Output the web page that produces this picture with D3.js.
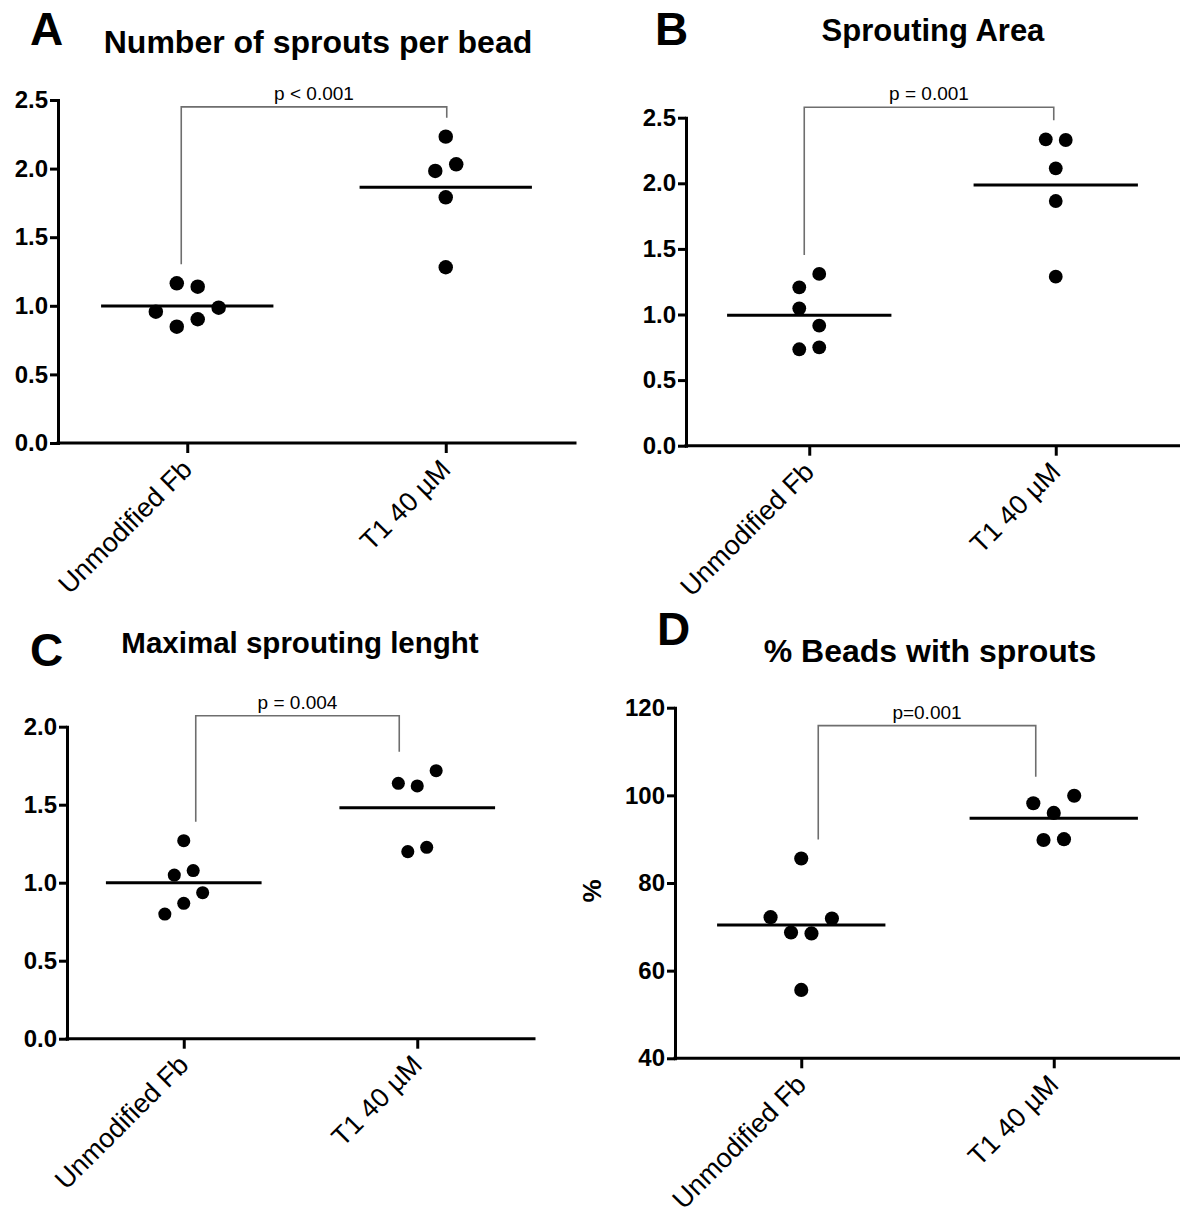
<!DOCTYPE html>
<html>
<head>
<meta charset="utf-8">
<script src="https://cdn.jsdelivr.net/npm/d3@7"></script>
<style>
  body { margin: 0; background: #fff; }
  svg text { font-family: "Liberation Sans", Arial, sans-serif; fill: #000; }
</style>
</head>
<body>
<div id="d3-container"></div>
<script>
/**
 * CONSTANTS AND GLOBALS
 * */
const width = 1180,
  height = 1215;

// categories and labels
const categories = ["Unmodified Fb", "T1 40 µM"];
const panelLetters = ["A", "B", "C", "D"];
const titles = ["Number of sprouts per bead", "Sprouting Area", "Maximal sprouting lenght", "% Beads with sprouts"];
const pLabels = ["p < 0.001", "p = 0.001", "p = 0.004", "p=0.001"];

const sproutsUnmod = [1.164, 1.139, 0.957, 0.848, 0.902, 0.986];
const sproutsT1 = [2.233, 1.983, 2.031, 1.791, 1.281];
const areaUnmod = [1.207, 1.309, 1.047, 0.915, 0.735, 0.750];
const areaT1 = [2.335, 2.330, 2.114, 1.865, 1.288];
const lengthUnmod = [1.269, 1.049, 1.078, 0.799, 0.868, 0.936];
const lengthT1 = [1.637, 1.620, 1.718, 1.199, 1.227];
const beadsUnmod = [85.6, 72.2, 68.7, 68.5, 71.9, 55.6];
const beadsT1 = [98.2, 96.0, 99.9, 89.8, 90.0];

// tick values
const ticksA = [0, 0.5, 1.0, 1.5, 2.0, 2.5];
const ticksB = [0, 0.5, 1.0, 1.5, 2.0, 2.5];
const ticksC = [0, 0.5, 1.0, 1.5, 2.0];
const ticksD = [40, 60, 80, 100, 120];

// bracket height in data units
const bracketLevels = [2.45, 2.58, 2.07, 115.9];

/**
 * PANEL LAYOUT (pixels)
 * */
const layout = [
  { x0: 58, x1: 575, yb: 443, yt: 100, tx: 318, ty: 53, ts: 32, lx: 30, ly: 45, inset: [-6, 1], fmt: ".1f" },
  { x0: 686, x1: 1179, yb: 445.7, yt: 117.7, tx: 933, ty: 41, ts: 31, lx: 655, ly: 45, inset: [-5, -2], fmt: ".1f" },
  { x0: 67, x1: 534, yb: 1038.7, yt: 726.7, tx: 300, ty: 653, ts: 29.5, lx: 30, ly: 666, inset: [12, -18], fmt: ".1f" },
  { x0: 675, x1: 1180, yb: 1058.3, yt: 707.7, tx: 930, ty: 662, ts: 32, lx: 657, ly: 645, inset: [17, -18], fmt: "d", yLabel: "%" }
];

const panels = [
  { groups: [sproutsUnmod, sproutsT1], ticks: ticksA },
  { groups: [areaUnmod, areaT1], ticks: ticksB },
  { groups: [lengthUnmod, lengthT1], ticks: ticksC },
  { groups: [beadsUnmod, beadsT1], ticks: ticksD }
];

let svg;

init();

function init() {
  svg = d3.select("#d3-container")
    .append("svg")
    .attr("width", width)
    .attr("height", height);

  panels.forEach((p, i) => drawPanel(p, layout[i], i));
}

// greedy rows: consecutive dots closer than 19px share a row, centred on the category
function swarm(values, y, cx, spacing) {
  const rows = [];
  values.forEach(v => {
    const last = rows.length ? rows[rows.length - 1] : null;
    if (last && Math.abs(y(v) - y(last[last.length - 1])) < 19) last.push(v);
    else rows.push([v]);
  });
  const out = [];
  rows.forEach(row => {
    row.forEach((v, j) => {
      out.push({ v: v, x: cx + (j - (row.length - 1) / 2) * spacing });
    });
  });
  return out;
}

function drawPanel(p, L, i) {
  const g = svg.append("g");

  const x = d3.scalePoint()
    .domain(categories)
    .range([L.x0, L.x1])
    .padding(0.5);

  const y = d3.scaleLinear()
    .domain(d3.extent(p.ticks))
    .range([L.yb, L.yt]);

  const step = x.step();

  // axes
  const yAxis = g.append("g")
    .attr("transform", `translate(${L.x0},0)`)
    .call(d3.axisLeft(y).tickValues(p.ticks).tickFormat(d3.format(L.fmt)).tickSize(8).tickSizeOuter(0).tickPadding(2));

  const xAxis = g.append("g")
    .attr("transform", `translate(0,${L.yb})`)
    .call(d3.axisBottom(x).tickSize(10).tickSizeOuter(0));

  [yAxis, xAxis].forEach(a => {
    a.select(".domain").attr("stroke", "#000").attr("stroke-width", 3).attr("stroke-linecap", "square");
    a.selectAll(".tick line").attr("stroke", "#000").attr("stroke-width", 3);
  });
  xAxis.select(".domain").attr("d", `M${L.x0},0H${L.x1}`);

  yAxis.selectAll(".tick text")
    .attr("font-size", 24)
    .attr("font-weight", "bold")
    .attr("fill", "#000");

  xAxis.selectAll(".tick text")
    .attr("font-size", 27)
    .attr("fill", "#000")
    .attr("text-anchor", "end")
    .attr("x", 0)
    .attr("y", 0)
    .attr("dy", 0)
    .attr("transform", "translate(6,28) rotate(-45)");

  // dots + mean lines
  p.groups.forEach((vals, k) => {
    const cx = x(categories[k]);
    const pts = swarm(vals, y, cx, step * 0.081);

    g.selectAll(null)
      .data(pts)
      .join("circle")
      .attr("cx", d => d.x)
      .attr("cy", d => y(d.v))
      .attr("r", step * 0.028)
      .attr("fill", "#000");

    const m = d3.mean(vals);
    g.append("line")
      .attr("x1", cx - step / 3)
      .attr("x2", cx + step / 3)
      .attr("y1", y(m))
      .attr("y2", y(m))
      .attr("stroke", "#000")
      .attr("stroke-width", 3);
  });

  // significance bracket
  const by = y(bracketLevels[i]);
  const bx0 = x(categories[0]) + L.inset[0];
  const bx1 = x(categories[1]) + L.inset[1];
  const end0 = y(d3.max(p.groups[0])) - 19;
  const end1 = y(d3.max(p.groups[1])) - 19;
  g.append("path")
    .attr("d", `M${bx0},${end0}V${by}H${bx1}V${end1}`)
    .attr("fill", "none")
    .attr("stroke", "#6e6e6e")
    .attr("stroke-width", 1.6);

  g.append("text")
    .attr("x", (bx0 + bx1) / 2)
    .attr("y", by - 7)
    .attr("text-anchor", "middle")
    .attr("font-size", 19)
    .text(pLabels[i]);

  // title and panel letter
  g.append("text")
    .attr("x", L.tx)
    .attr("y", L.ty)
    .attr("text-anchor", "middle")
    .attr("font-size", L.ts)
    .attr("font-weight", "bold")
    .text(titles[i]);

  g.append("text")
    .attr("x", L.lx)
    .attr("y", L.ly)
    .attr("font-size", 46)
    .attr("font-weight", "bold")
    .text(panelLetters[i]);

  if (L.yLabel) {
    g.append("text")
      .attr("transform", `translate(601,${(L.yb + L.yt) / 2 + 8}) rotate(-90)`)
      .attr("text-anchor", "middle")
      .attr("font-size", 26)
      .attr("font-weight", "bold")
      .text(L.yLabel);
  }
}
</script>
</body>
</html>
